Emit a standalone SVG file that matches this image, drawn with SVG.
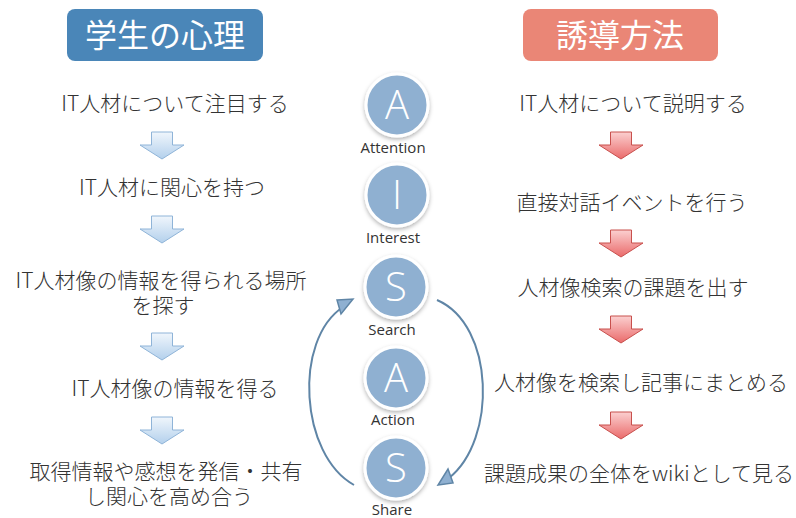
<svg xmlns="http://www.w3.org/2000/svg" width="796" height="518" viewBox="0 0 796 518">
<defs>
<linearGradient id="gb" x1="0" y1="0" x2="0" y2="1"><stop offset="0" stop-color="#f0f6fc"/><stop offset="1" stop-color="#b3d0ec"/></linearGradient>
<linearGradient id="gr" x1="0" y1="0" x2="0" y2="1"><stop offset="0" stop-color="#fbd0d0"/><stop offset="1" stop-color="#ea6a6a"/></linearGradient>
<filter id="sh" x="-20%" y="-20%" width="140%" height="150%"><feDropShadow dx="0" dy="2" stdDeviation="2" flood-color="#000" flood-opacity="0.3"/></filter>
<path id="arr" d="M-10.5,0 H10.5 V13 H22 L0,27 L-22,13 H-10.5 Z"/>
</defs>
<style>
.t{font-family:"Noto Sans CJK JP",sans-serif;font-weight:300;font-size:21px;fill:#333;text-anchor:middle}
.h{font-family:"Noto Sans CJK JP",sans-serif;font-weight:400;font-size:32px;fill:#fff;text-anchor:middle}
.c{fill:#8fb0d1;stroke:#fff;stroke-width:3;filter:url(#sh)}
.l{font-family:"Open Sans",sans-serif;font-weight:300;font-size:40px;fill:#fff;text-anchor:middle}
.s{font-family:"Open Sans",sans-serif;font-weight:400;font-size:15px;fill:#333;text-anchor:middle}
.ab{fill:url(#gb);stroke:#8fb4d8;stroke-width:1}
.ar{fill:url(#gr);stroke:#c8504d;stroke-width:1}
.cv{fill:none;stroke:#5f85a6;stroke-width:2}
.ah{fill:#8fb0d1;stroke:#5f85a6;stroke-width:1.5}
</style>
<g id="header-left"><rect x="67" y="9" width="196" height="52" rx="8" fill="#4a86b8"/><text class="h" x="165" y="47">学生の心理</text></g>
<g id="header-right"><rect x="523" y="9" width="195" height="52" rx="8" fill="#ea8676"/><text class="h" x="620" y="47">誘導方法</text></g>

<g id="left1"><text class="t" x="175" y="111">IT人材について注目する</text></g>
<g id="left2"><text class="t" x="172" y="195">IT人材に関心を持つ</text></g>
<g id="left3"><text class="t"><tspan x="161" y="288">IT人材像の情報を得られる場所</tspan><tspan x="163" dy="25">を探す</tspan></text></g>
<g id="left4"><text class="t" x="175" y="396">IT人材像の情報を得る</text></g>
<g id="left5"><text class="t"><tspan x="166" y="479">取得情報や感想を発信・共有</tspan><tspan x="169" dy="25">し関心を高め合う</tspan></text></g>

<g id="right1"><text class="t" x="633" y="111">IT人材について説明する</text></g>
<g id="right2"><text class="t" x="632" y="210">直接対話イベントを行う</text></g>
<g id="right3"><text class="t" x="633" y="295">人材像検索の課題を出す</text></g>
<g id="right4"><text class="t" x="641" y="390">人材像を検索し記事にまとめる</text></g>
<g id="right5"><text class="t" x="639" y="481">課題成果の全体をwikiとして見る</text></g>

<g id="aisas">
<g id="c-attention"><circle class="c" cx="397" cy="105" r="31"/><text class="l" x="397" y="119">A</text><text class="s" x="393" y="153">Attention</text></g>
<g id="c-interest"><circle class="c" cx="397" cy="195" r="31"/><text class="l" x="397" y="209">I</text><text class="s" x="393" y="243">Interest</text></g>
<g id="c-search"><circle class="c" cx="396" cy="287" r="31"/><text class="l" x="396" y="301">S</text><text class="s" x="392" y="335">Search</text></g>
<g id="c-action"><circle class="c" cx="396" cy="378" r="31"/><text class="l" x="396" y="392">A</text><text class="s" x="393" y="425">Action</text></g>
<g id="c-share"><circle class="c" cx="396" cy="468" r="31"/><text class="l" x="396" y="482">S</text><text class="s" x="392" y="515">Share</text></g>
</g>

<g id="connectors">
<use href="#arr" class="ab" x="162" y="132"/>
<use href="#arr" class="ab" x="162" y="216"/>
<use href="#arr" class="ab" x="162" y="333"/>
<use href="#arr" class="ab" x="162" y="417"/>
<use href="#arr" class="ar" x="621" y="132"/>
<use href="#arr" class="ar" x="621" y="230"/>
<use href="#arr" class="ar" x="621" y="316"/>
<use href="#arr" class="ar" x="621" y="412"/>
<path class="cv" d="M354,485 C300,455 293,340 343,307"/>
<polygon class="ah" points="337,300 353,299 341,314"/>
<path class="cv" d="M437,300 C495,325 497,440 449,478"/>
<polygon class="ah" points="438,485 453,483 448,469"/>
</g>
</svg>
